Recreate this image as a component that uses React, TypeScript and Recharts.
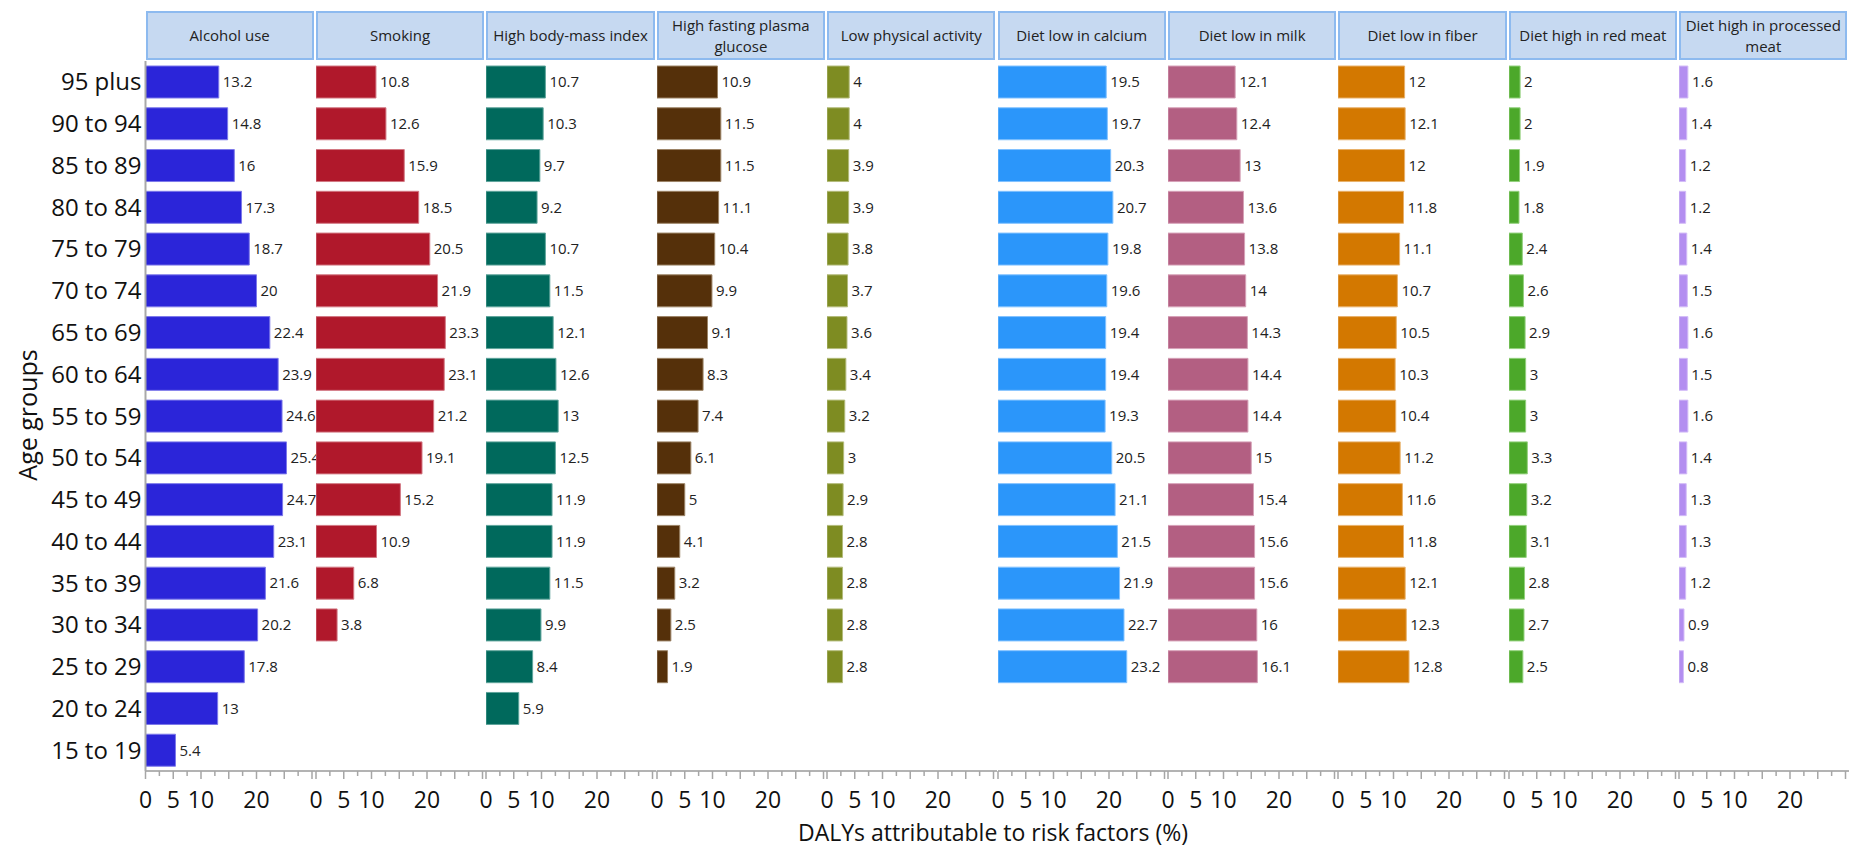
import { BarChart, Bar, XAxis, YAxis, LabelList } from "recharts";

const ageGroups = [
    "95 plus", "90 to 94", "85 to 89", "80 to 84", "75 to 79", "70 to 74",
    "65 to 69", "60 to 64", "55 to 59", "50 to 54", "45 to 49", "40 to 44",
    "35 to 39", "30 to 34", "25 to 29", "20 to 24", "15 to 19",
];

const alcoholUse = [13.2, 14.8, 16, 17.3, 18.7, 20, 22.4, 23.9, 24.6, 25.4, 24.7, 23.1, 21.6, 20.2, 17.8, 13, 5.4];
const smoking = [10.8, 12.6, 15.9, 18.5, 20.5, 21.9, 23.3, 23.1, 21.2, 19.1, 15.2, 10.9, 6.8, 3.8, null, null, null];
const highBmi = [10.7, 10.3, 9.7, 9.2, 10.7, 11.5, 12.1, 12.6, 13, 12.5, 11.9, 11.9, 11.5, 9.9, 8.4, 5.9, null];
const highGlucose = [10.9, 11.5, 11.5, 11.1, 10.4, 9.9, 9.1, 8.3, 7.4, 6.1, 5, 4.1, 3.2, 2.5, 1.9, null, null];
const lowActivity = [4, 4, 3.9, 3.9, 3.8, 3.7, 3.6, 3.4, 3.2, 3, 2.9, 2.8, 2.8, 2.8, 2.8, null, null];
const lowCalcium = [19.5, 19.7, 20.3, 20.7, 19.8, 19.6, 19.4, 19.4, 19.3, 20.5, 21.1, 21.5, 21.9, 22.7, 23.2, null, null];
const lowMilk = [12.1, 12.4, 13, 13.6, 13.8, 14, 14.3, 14.4, 14.4, 15, 15.4, 15.6, 15.6, 16, 16.1, null, null];
const lowFiber = [12, 12.1, 12, 11.8, 11.1, 10.7, 10.5, 10.3, 10.4, 11.2, 11.6, 11.8, 12.1, 12.3, 12.8, null, null];
const highRedMeat = [2, 2, 1.9, 1.8, 2.4, 2.6, 2.9, 3, 3, 3.3, 3.2, 3.1, 2.8, 2.7, 2.5, null, null];
const highProcessedMeat = [1.6, 1.4, 1.2, 1.2, 1.4, 1.5, 1.6, 1.5, 1.6, 1.4, 1.3, 1.3, 1.2, 0.9, 0.8, null, null];

const axisTicks = [0, 2.5, 5, 7.5, 10, 12.5, 15, 17.5, 20, 22.5, 25, 27.5, 30];
const labeledTicks = [0, 5, 10, 20];

const panels = [
    { title: "Alcohol use", values: alcoholUse, fill: "#2b25d9", stroke: "#7c78ea" },
    { title: "Smoking", values: smoking, fill: "#b0182b", stroke: "#d27783" },
    { title: "High body-mass index", values: highBmi, fill: "#00695c", stroke: "#5fa59c" },
    { title: "High fasting plasma glucose", values: highGlucose, fill: "#55300a", stroke: "#9c8466" },
    { title: "Low physical activity", values: lowActivity, fill: "#7e8c22", stroke: "#b3bb7a" },
    { title: "Diet low in calcium", values: lowCalcium, fill: "#2b96fa", stroke: "#82c2ff" },
    { title: "Diet low in milk", values: lowMilk, fill: "#b35f82", stroke: "#d6a2b8" },
    { title: "Diet low in fiber", values: lowFiber, fill: "#d37800", stroke: "#e8b16a" },
    { title: "Diet high in red meat", values: highRedMeat, fill: "#4ca82a", stroke: "#93d07c" },
    { title: "Diet high in processed meat", values: highProcessedMeat, fill: "#b38ef0", stroke: "#d3bcf7" },
];

const FONT = "'Open Sans', sans-serif";
const PLOT_LEFT = 145.5;
const PANEL_W = 170.4;
const CHART_TOP = 61;
const CHART_H = 787;
const BLEED = 14; // room on the left of each panel for its "0" tick label

const XTick = (props: any) => {
    const { x, y, payload } = props;
    const v = payload.value;
    const major = v % 5 === 0;
    return (
        <g>
            <line x1={x} x2={x} y1={y - 8} y2={y - 8 + (major ? 8 : 5)} stroke="#a6a6a6" strokeWidth={1.5} />
            {labeledTicks.includes(v) && (
                <text x={x} y={y + 29} textAnchor="middle" fontSize={23} fill="#111" fontFamily={FONT}>
                    {v}
                </text>
            )}
        </g>
    );
};

const Panel = ({ index }: { index: number }) => {
    const p = panels[index];
    const first = index === 0;
    const data = ageGroups.map((age, i) => ({ age, value: p.values[i] }));
    const left = first ? 0 : PLOT_LEFT + index * PANEL_W - BLEED;
    const width = first ? PLOT_LEFT + PANEL_W : PANEL_W + BLEED;

    return (
        <div style={{ position: "absolute", left, top: CHART_TOP }}>
            <BarChart
                width={width}
                height={CHART_H}
                data={data}
                layout="vertical"
                margin={{ top: 0, right: 0, left: first ? 0 : BLEED, bottom: 37 }}
                barSize={32}
                style={{ fontFamily: FONT }}
            >
                <XAxis
                    type="number"
                    domain={[0, 30.7]}
                    ticks={axisTicks}
                    allowDataOverflow
                    height={40}
                    tickSize={8}
                    tickMargin={0}
                    tickLine={false}
                    interval={0}
                    axisLine={{ stroke: "#b3b3b3", strokeWidth: 2 }}
                    tick={<XTick />}
                />
                <YAxis
                    type="category"
                    dataKey="age"
                    width={first ? PLOT_LEFT : 0}
                    tick={first ? { fontSize: 24, fill: "#111", fontFamily: FONT } : false}
                    tickLine={false}
                    tickSize={2}
                    tickMargin={2}
                    interval={0}
                    axisLine={{ stroke: first ? "#a9a9a9" : "#dcdcdc", strokeWidth: 2 }}
                />
                <Bar dataKey="value" fill={p.fill} stroke={p.stroke} strokeWidth={1} isAnimationActive={false}>
                    <LabelList
                        dataKey="value"
                        position="right"
                        offset={4}
                        fill="#222"
                        fontSize={15}
                        fontFamily={FONT}
                        formatter={(v: any) => (v == null ? "" : v)}
                    />
                </Bar>
            </BarChart>
        </div>
    );
};

export default function App() {
    return (
        <div
            style={{
                position: "absolute",
                left: 0,
                top: 0,
                width: 1849,
                height: 848,
                overflow: "hidden",
                background: "#fff",
                fontFamily: FONT,
            }}
        >
            {panels.map((p, i) => (
                <div
                    key={p.title}
                    style={{
                        position: "absolute",
                        left: PLOT_LEFT + i * PANEL_W,
                        top: 11,
                        width: PANEL_W - 2,
                        height: 49,
                        boxSizing: "border-box",
                        border: "2px solid #8dbaef",
                        background: "#c6d9f1",
                        color: "#222",
                        fontSize: 15,
                        lineHeight: "21px",
                        display: "flex",
                        alignItems: "center",
                        justifyContent: "center",
                        textAlign: "center",
                        padding: "0 2px",
                    }}
                >
                    {p.title}
                </div>
            ))}
            {panels.map((p, i) => (
                <Panel key={p.title} index={i} />
            ))}
            <div
                style={{
                    position: "absolute",
                    left: 27,
                    top: 415,
                    transform: "translate(-50%, -50%) rotate(-90deg)",
                    fontSize: 25,
                    color: "#111",
                    whiteSpace: "nowrap",
                }}
            >
                Age groups
            </div>
            <div
                style={{
                    position: "absolute",
                    left: 993,
                    top: 832,
                    transform: "translate(-50%, -50%)",
                    fontSize: 23,
                    color: "#111",
                    whiteSpace: "nowrap",
                }}
            >
                DALYs attributable to risk factors (%)
            </div>
        </div>
    );
}
